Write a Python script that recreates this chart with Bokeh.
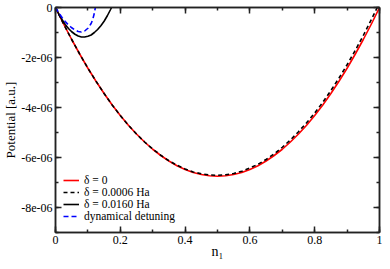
from bokeh.plotting import figure
from bokeh.models import (Range1d, LinearAxis, SingleIntervalTicker,
                          CustomJSTickFormatter, Legend, LegendItem)
from bokeh.embed import file_html
from bokeh.resources import INLINE

# ---- data (potential in units of 1e-6 a.u.) ----
n_full = [0, 0.025, 0.05, 0.075, 0.1, 0.125, 0.15, 0.175, 0.2, 0.225, 0.25,
          0.275, 0.3, 0.325, 0.35, 0.375, 0.4, 0.425, 0.45, 0.475, 0.5,
          0.525, 0.55, 0.575, 0.6, 0.625, 0.65, 0.675, 0.7, 0.725, 0.75,
          0.775, 0.8, 0.825, 0.85, 0.875, 0.9, 0.925, 0.95, 0.975, 1.0]
v_delta0 = [0, -0.66, -1.28, -1.87, -2.43, -2.95, -3.44, -3.90, -4.32, -4.71, -5.06,
            -5.38, -5.67, -5.92, -6.14, -6.33, -6.48, -6.60, -6.68, -6.73, -6.75,
            -6.73, -6.68, -6.60, -6.48, -6.33, -6.14, -5.92, -5.67, -5.38, -5.06,
            -4.71, -4.32, -3.90, -3.44, -2.95, -2.43, -1.87, -1.28, -0.66, 0]

n_d0006 = [0, 0.025, 0.05, 0.075, 0.1, 0.125, 0.15, 0.175, 0.2, 0.225, 0.25,
           0.275, 0.3, 0.325, 0.35, 0.375, 0.4, 0.425, 0.45, 0.475, 0.5,
           0.525, 0.55, 0.575, 0.6, 0.625, 0.65, 0.675, 0.7, 0.725, 0.75,
           0.775, 0.8, 0.825, 0.85, 0.875, 0.9, 0.925, 0.95, 0.975, 0.993]
v_d0006 = [0, -0.66, -1.28, -1.87, -2.43, -2.95, -3.44, -3.90, -4.32, -4.71, -5.06,
           -5.38, -5.66, -5.91, -6.13, -6.31, -6.46, -6.58, -6.65, -6.70, -6.71,
           -6.69, -6.64, -6.55, -6.42, -6.27, -6.08, -5.85, -5.59, -5.30, -4.97,
           -4.61, -4.22, -3.79, -3.32, -2.82, -2.29, -1.72, -1.12, -0.48, 0]

n_d0160 = [0, 0.01, 0.02, 0.03, 0.04, 0.05, 0.06, 0.07, 0.08, 0.09, 0.10,
           0.11, 0.12, 0.13, 0.14, 0.15, 0.16, 0.17, 0.173]
v_d0160 = [0, -0.26, -0.48, -0.68, -0.84, -0.97, -1.07, -1.14, -1.18, -1.18, -1.15,
           -1.10, -1.00, -0.88, -0.73, -0.55, -0.33, -0.08, 0]

n_dyn = [0, 0.01, 0.02, 0.03, 0.04, 0.05, 0.06, 0.07, 0.08, 0.09, 0.10,
         0.11, 0.115, 0.12, 0.123]
v_dyn = [0, -0.21, -0.40, -0.56, -0.70, -0.81, -0.90, -0.96, -0.98, -0.94, -0.83,
         -0.64, -0.48, -0.22, 0]

labels = ["\u03b4 = 0", "\u03b4 = 0.0006 Ha", "\u03b4 = 0.0160 Ha", "dynamical detuning"]

SCALE = 1e-6
FONT = "Liberation Serif"
AX = "#222222"

p = figure(width=382, height=261, output_backend="svg", toolbar_location=None,
           x_range=Range1d(0, 1), y_range=Range1d(-9e-6, 0),
           min_border_left=5, min_border_right=3, min_border_top=7, min_border_bottom=0)
p.grid.visible = False
p.outline_line_color = AX
p.outline_line_width = 1.5
p.background_fill_color = "white"

xaxis = p.xaxis[0]
yaxis = p.yaxis[0]

xaxis.ticker = SingleIntervalTicker(interval=0.2, num_minor_ticks=2)
yaxis.ticker = SingleIntervalTicker(interval=2e-6, num_minor_ticks=2)
xaxis.formatter = CustomJSTickFormatter(code="return (Math.round(tick*10)/10).toString();")
yaxis.formatter = CustomJSTickFormatter(
    code="if (Math.abs(tick) < 1e-12) return '0'; return Math.round(tick*1e6) + 'e-06';")

blank = CustomJSTickFormatter(code="return '';")
top = LinearAxis(ticker=SingleIntervalTicker(interval=0.2, num_minor_ticks=2),
                 formatter=blank, major_label_standoff=0,
                 major_label_text_font_size="1px")
right = LinearAxis(ticker=SingleIntervalTicker(interval=2e-6, num_minor_ticks=2),
                   formatter=blank, major_label_standoff=0,
                   major_label_text_font_size="1px")
p.add_layout(top, "above")
p.add_layout(right, "right")

for ax in [xaxis, yaxis, top, right]:
    ax.axis_line_color = AX
    ax.axis_line_width = 1.5
    ax.major_tick_line_color = AX
    ax.minor_tick_line_color = AX
    ax.major_tick_line_width = 1.5
    ax.minor_tick_line_width = 1.5
    ax.major_tick_in = 6
    ax.major_tick_out = 0
    ax.minor_tick_in = 3
    ax.minor_tick_out = 0

for ax in [xaxis, yaxis]:
    ax.major_label_text_font = FONT
    ax.major_label_text_font_size = "12px"
    ax.major_label_text_color = "black"
    ax.axis_label_text_font = FONT
    ax.axis_label_text_font_style = "normal"
    ax.axis_label_text_color = "black"

xaxis.major_label_standoff = 3
yaxis.major_label_standoff = 3
xaxis.axis_label = "n\u2081"
xaxis.axis_label_text_font_size = "14px"
xaxis.axis_label_standoff = -3
yaxis.axis_label = "Potential [a.u.]"
yaxis.axis_label_text_font_size = "13px"
yaxis.axis_label_standoff = 0

r0 = p.line(n_full, [v * SCALE for v in v_delta0],
            line_color="#ff0000", line_width=1.6)
r1 = p.line(n_d0006, [v * SCALE for v in v_d0006],
            line_color="#000000", line_width=1.6, line_dash="4 3")
r2 = p.line(n_d0160, [v * SCALE for v in v_d0160],
            line_color="#000000", line_width=1.6)
r3 = p.line(n_dyn, [v * SCALE for v in v_dyn],
            line_color="#0000ff", line_width=1.6, line_dash="5 3")

legend = Legend(items=[LegendItem(label=labels[0], renderers=[r0]),
                       LegendItem(label=labels[1], renderers=[r1]),
                       LegendItem(label=labels[2], renderers=[r2]),
                       LegendItem(label=labels[3], renderers=[r3])],
                location=(8, 10))
legend.background_fill_alpha = 0
legend.border_line_alpha = 0
legend.padding = 0
legend.margin = 0
legend.spacing = 0
legend.label_height = 10
legend.glyph_height = 10
legend.glyph_width = 16
legend.label_standoff = 5
legend.label_text_font = FONT
legend.label_text_font_size = "11.5px"
legend.label_text_color = "black"
p.add_layout(legend)

open("out.html", "w").write(file_html(p, INLINE))
